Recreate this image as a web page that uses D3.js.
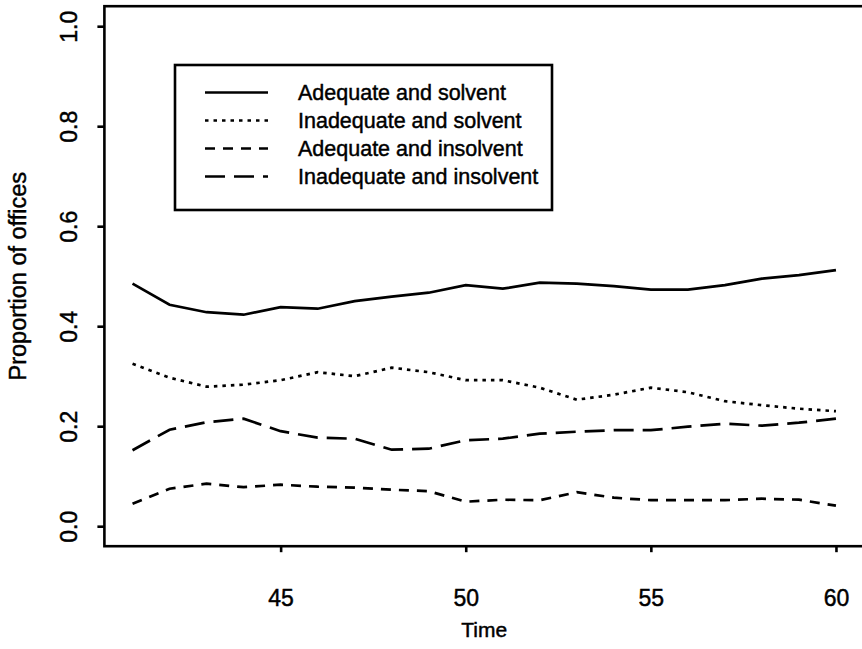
<!DOCTYPE html>
<html>
<head>
<meta charset="utf-8">
<script src="https://cdn.jsdelivr.net/npm/d3@7"></script>
<style>
  html, body { margin: 0; padding: 0; background: #fff; }
  svg { display: block; }
  text { font-family: "Liberation Sans", Arial, Helvetica, sans-serif; fill: #000; stroke: #000; stroke-width: 0.45px; }
</style>
</head>
<body>
<svg id="chart" width="862" height="649"></svg>
<script>
// ---- data ----
const years = [41,42,43,44,45,46,47,48,49,50,51,52,53,54,55,56,57,58,59,60];
const adequateSolvent    = [0.485,0.443,0.428,0.423,0.438,0.435,0.450,0.459,0.467,0.482,0.475,0.487,0.485,0.480,0.473,0.473,0.482,0.495,0.502,0.512];
const inadequateSolvent  = [0.325,0.297,0.279,0.283,0.292,0.308,0.300,0.317,0.308,0.292,0.292,0.277,0.253,0.263,0.277,0.268,0.250,0.242,0.235,0.230];
const adequateInsolvent  = [0.045,0.075,0.085,0.078,0.083,0.079,0.077,0.073,0.070,0.049,0.053,0.052,0.068,0.057,0.052,0.052,0.052,0.055,0.053,0.041];
const inadequateInsolvent= [0.152,0.193,0.208,0.215,0.190,0.177,0.175,0.153,0.155,0.172,0.175,0.185,0.189,0.192,0.192,0.199,0.205,0.201,0.207,0.215];
const seriesNames = ["Adequate and solvent","Inadequate and solvent","Adequate and insolvent","Inadequate and insolvent"];
const xTicks = [45,50,55,60];
const yTicks = [0.0,0.2,0.4,0.6,0.8,1.0];
const xTitle = "Time";
const yTitle = "Proportion of offices";

// ---- styles ----
const dashes = [null, "3.5,5", "10,8", "20,9"];
const seriesValues = [adequateSolvent, inadequateSolvent, adequateInsolvent, inadequateInsolvent];

const svg = d3.select("#chart");
const x = d3.scaleLinear().domain([40.24, 60.76]).range([104.4, 864.1]);
const y = d3.scaleLinear().domain([-0.04, 1.04]).range([546.2, 6.2]);

// box
svg.append("rect")
  .attr("x", x.range()[0]).attr("y", y.range()[1])
  .attr("width", x.range()[1] - x.range()[0])
  .attr("height", y.range()[0] - y.range()[1])
  .attr("fill", "none").attr("stroke", "#000").attr("stroke-width", 2.6);

// x axis
const xAxis = svg.append("g")
  .attr("transform", `translate(0,${y.range()[0]})`)
  .call(d3.axisBottom(x).tickValues(xTicks).tickFormat(d3.format("d")).tickSize(6).tickPadding(37));
xAxis.select(".domain").remove();
xAxis.selectAll("line").attr("stroke", "#000").attr("stroke-width", 2.6);
xAxis.selectAll("text").attr("font-size", 23).attr("font-family", "Liberation Sans, Arial, sans-serif");

// y axis
const yAxis = svg.append("g")
  .attr("transform", `translate(${x.range()[0]},0)`)
  .call(d3.axisLeft(y).tickValues(yTicks).tickFormat(d3.format(".1f")).tickSize(7).tickPadding(0));
yAxis.select(".domain").remove();
yAxis.selectAll("line").attr("stroke", "#000").attr("stroke-width", 2.6);
yAxis.selectAll("text")
  .attr("font-size", 23)
  .attr("font-family", "Liberation Sans, Arial, sans-serif")
  .attr("text-anchor", "middle")
  .attr("dy", null)
  .attr("x", null)
  .attr("transform", `translate(-27,0) rotate(-90)`);

// titles
svg.append("text").attr("x", (x.range()[0] + x.range()[1]) / 2).attr("y", 637)
  .attr("text-anchor", "middle").attr("font-size", 21).text(xTitle);
svg.append("text")
  .attr("transform", `translate(26,${(y.range()[0] + y.range()[1]) / 2}) rotate(-90)`)
  .attr("text-anchor", "middle").attr("font-size", 23.5).text(yTitle);

// lines
const line = d3.line().x((d, i) => x(years[i])).y(d => y(d));
seriesValues.forEach((vals, k) => {
  svg.append("path")
    .datum(vals)
    .attr("d", line)
    .attr("fill", "none")
    .attr("stroke", "#000")
    .attr("stroke-width", 2.7)
    .attr("stroke-dasharray", dashes[k]);
});

// legend
const lg = svg.append("g");
lg.append("rect").attr("x", 175).attr("y", 65).attr("width", 377).attr("height", 145)
  .attr("fill", "#fff").attr("stroke", "#000").attr("stroke-width", 2.6);
const rowY = [92.5, 120.5, 148.5, 176.5];
seriesNames.forEach((name, k) => {
  lg.append("line").attr("x1", 205).attr("x2", 268).attr("y1", rowY[k]).attr("y2", rowY[k])
    .attr("stroke", "#000").attr("stroke-width", 2.7).attr("stroke-dasharray", dashes[k]);
  lg.append("text").attr("x", 298).attr("y", rowY[k]).attr("dy", "0.35em")
    .attr("font-size", 21.5).text(name);
});
</script>
</body>
</html>
